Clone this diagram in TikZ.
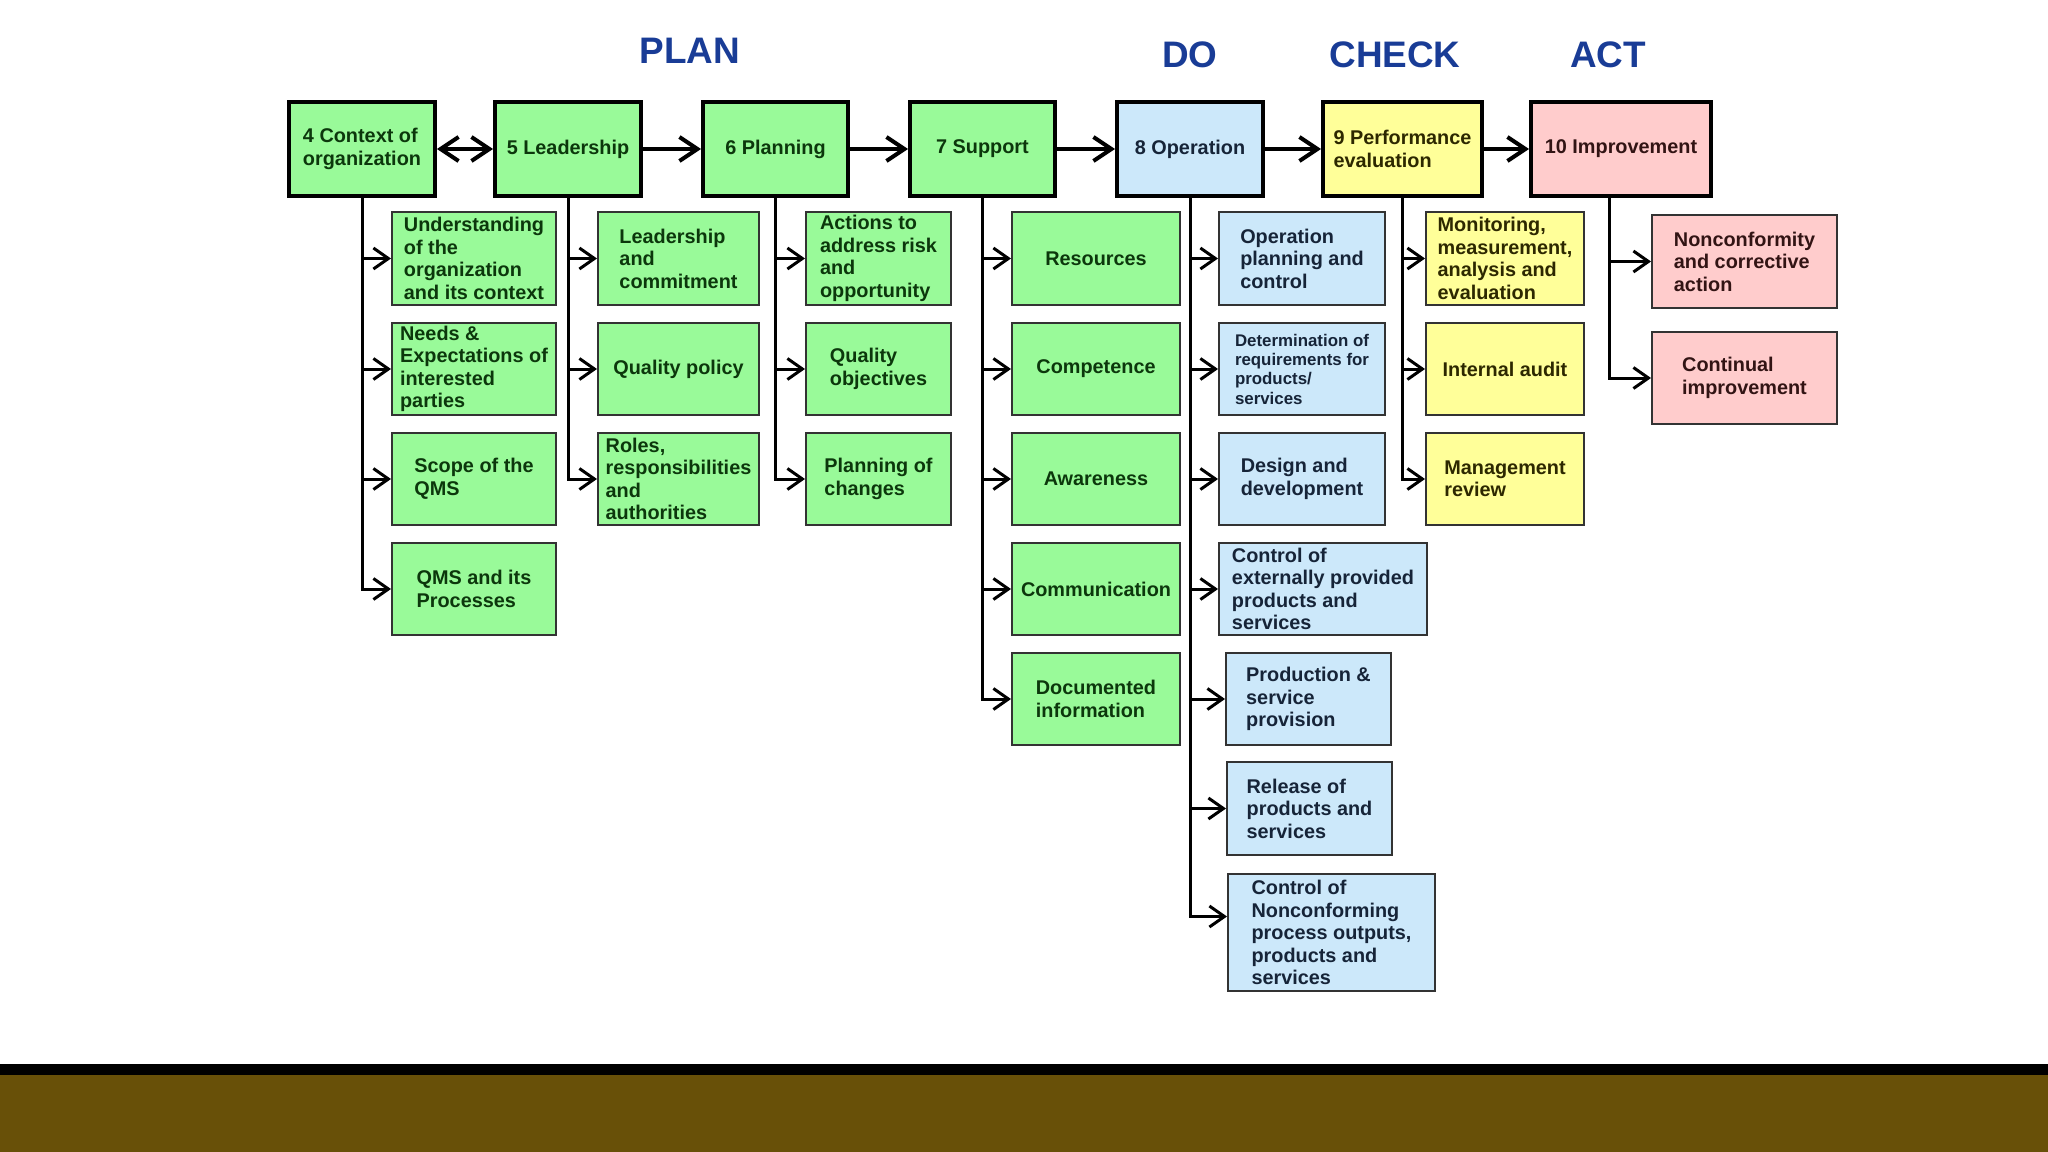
\documentclass[tikz,border=0pt]{standalone}
\usepackage{fontspec}
\setmainfont{Liberation Sans}
\usetikzlibrary{arrows.meta}

\begin{document}
\begin{tikzpicture}[x=0.02cm,y=-0.02cm,>={Straight Barb[length=3.6mm,width=4.8mm]},
  link/.style={-{Straight Barb[length=3mm,width=4.2mm]},line width=0.6mm},
  flow/.style={line width=0.8mm},
  clause/.style={draw=black,line width=0.8mm,minimum height=1.88cm,inner sep=1pt,
    align=left,font=\fontsize{11.3}{12.8}\selectfont\bfseries},
  item/.style={draw=black!80,line width=0.4mm,minimum height=1.86cm,inner sep=1pt,
    align=left,font=\fontsize{11.3}{12.8}\selectfont\bfseries},
  plan/.style={fill=planfill,text=plantext},
  do/.style={fill=dofill,text=dotext},
  check/.style={fill=checkfill,text=checktext},
  act/.style={fill=actfill,text=acttext},
  phasename/.style={text=phase,font=\fontsize{21}{24}\selectfont\bfseries}]
\definecolor{planfill}{RGB}{153,250,153}
\definecolor{plantext}{RGB}{12,55,12}
\definecolor{dofill}{RGB}{204,232,250}
\definecolor{dotext}{RGB}{22,36,56}
\definecolor{checkfill}{RGB}{255,255,153}
\definecolor{checktext}{RGB}{45,40,0}
\definecolor{actfill}{RGB}{255,204,204}
\definecolor{acttext}{RGB}{50,20,20}
\definecolor{phase}{RGB}{25,60,150}
\definecolor{band}{RGB}{104,80,8}

\useasboundingbox (0,0) rectangle (2048,1152);

% Phase headings.
\node[phasename] (hplan) at (690,51) {PLAN};
\node[phasename] (hdo) at (1190,55) {DO};
\node[phasename] (hcheck) at (1395,55) {CHECK};
\node[phasename] (hact) at (1608,55) {ACT};

% Main clauses.
\node[clause,plan,minimum width=2.92cm] (ctx) at (362,149) {4 Context of\\organization};
\node[clause,plan,minimum width=2.92cm] (lead) at (568,149) {5 Leadership};
\node[clause,plan,minimum width=2.9cm] (plng) at (775.5,149) {6 Planning};
\node[clause,plan,minimum width=2.9cm] (supp) at (982.5,149) {7 Support};
\node[clause,do,minimum width=2.92cm] (oper) at (1190,149) {8 Operation};
\node[clause,check,minimum width=3.18cm] (perf) at (1402.5,149) {9 Performance\\evaluation};
\node[clause,act,minimum width=3.6cm] (impr) at (1621,149) {10 Improvement};

\draw[flow,<->] (ctx.east) -- (lead.west);
\draw[flow,->] (lead.east) -- (plng.west);
\draw[flow,->] (plng.east) -- (supp.west);
\draw[flow,->] (supp.east) -- (oper.west);
\draw[flow,->] (oper.east) -- (perf.west);
\draw[flow,->] (perf.east) -- (impr.west);

% Sub-clauses of 4 to 6.
\node[item,plan,minimum width=3.28cm] (ctxa) at (474,258.5) {Understanding\\of the\\organization\\and its context};
\node[item,plan,minimum width=3.28cm] (ctxb) at (474,369) {Needs \&\\Expectations of\\interested\\parties};
\node[item,plan,minimum width=3.28cm] (ctxc) at (474,479) {Scope of the\\QMS};
\node[item,plan,minimum width=3.28cm] (ctxd) at (474,589) {QMS and its\\Processes};
\node[item,plan,minimum width=3.22cm] (leada) at (678.5,258.5) {Leadership\\and\\commitment};
\node[item,plan,minimum width=3.22cm] (leadb) at (678.5,369) {Quality policy};
\node[item,plan,minimum width=3.22cm] (leadc) at (678.5,479) {Roles,\\responsibilities\\and\\authorities};
\node[item,plan,minimum width=2.9cm] (plnga) at (878.5,258.5) {Actions to\\address risk\\and\\opportunity};
\node[item,plan,minimum width=2.9cm] (plngb) at (878.5,369) {Quality\\objectives};
\node[item,plan,minimum width=2.9cm] (plngc) at (878.5,479) {Planning of\\changes};

% Sub-clauses of 7.
\node[item,plan,minimum width=3.36cm] (suppa) at (1096,258.5) {Resources};
\node[item,plan,minimum width=3.36cm] (suppb) at (1096,369) {Competence};
\node[item,plan,minimum width=3.36cm] (suppc) at (1096,479) {Awareness};
\node[item,plan,minimum width=3.36cm] (suppd) at (1096,589) {Communication};
\node[item,plan,minimum width=3.36cm] (suppe) at (1096,699) {Documented\\information};

% Sub-clauses of 8.
\node[item,do,minimum width=3.32cm] (opera) at (1302,258.5) {Operation\\planning and\\control};
\node[item,do,minimum width=3.32cm,font=\fontsize{9.6}{11}\selectfont\bfseries] (operb) at (1302,369) {Determination of\\requirements for\\products/\\services};
\node[item,do,minimum width=3.32cm] (operc) at (1302,479) {Design and\\development};
\node[item,do,minimum width=4.16cm] (operd) at (1323,589) {Control of\\externally provided\\products and\\services};
\node[item,do,minimum width=3.3cm] (opere) at (1308.5,699) {Production \&\\service\\provision};
\node[item,do,minimum width=3.3cm] (operf) at (1309.5,808.5) {Release of\\products and\\services};
\node[item,do,minimum width=4.14cm,minimum height=2.34cm] (operg) at (1331.5,932.5) {Control of\\Nonconforming\\process outputs,\\products and\\services};

% Sub-clauses of 9 and 10.
\node[item,check,minimum width=3.16cm] (perfa) at (1505,258.5) {Monitoring,\\measurement,\\analysis and\\evaluation};
\node[item,check,minimum width=3.16cm] (perfb) at (1505,369) {Internal audit};
\node[item,check,minimum width=3.16cm] (perfc) at (1505,479) {Management\\review};
\node[item,act,minimum width=3.7cm] (impra) at (1744.5,261.5) {Nonconformity\\and corrective\\action};
\node[item,act,minimum width=3.7cm] (imprb) at (1744.5,378) {Continual\\improvement};

% Branches from each clause to its sub-clauses.
\draw[link] (ctx.south) |- (ctxd.west);
\draw[link] (ctx.south) |- (ctxc.west);
\draw[link] (ctx.south) |- (ctxb.west);
\draw[link] (ctx.south) |- (ctxa.west);
\draw[link] (lead.south) |- (leadc.west);
\draw[link] (lead.south) |- (leadb.west);
\draw[link] (lead.south) |- (leada.west);
\draw[link] (plng.south) |- (plngc.west);
\draw[link] (plng.south) |- (plngb.west);
\draw[link] (plng.south) |- (plnga.west);
\draw[link] (supp.south) |- (suppe.west);
\draw[link] (supp.south) |- (suppd.west);
\draw[link] (supp.south) |- (suppc.west);
\draw[link] (supp.south) |- (suppb.west);
\draw[link] (supp.south) |- (suppa.west);
\draw[link] (oper.south) |- ([yshift=0.32cm]operg.west);
\draw[link] (oper.south) |- (operf.west);
\draw[link] (oper.south) |- (opere.west);
\draw[link] (oper.south) |- (operd.west);
\draw[link] (oper.south) |- (operc.west);
\draw[link] (oper.south) |- (operb.west);
\draw[link] (oper.south) |- (opera.west);
\draw[link] (perf.south) |- (perfc.west);
\draw[link] (perf.south) |- (perfb.west);
\draw[link] (perf.south) |- (perfa.west);
\coordinate (imprdrop) at (1609,196);
\draw[link] (imprdrop) |- (imprb.west);
\draw[link] (imprdrop) |- (impra.west);

% Footer band.
\fill[black] (0,1064) rectangle (2048,1075);
\fill[band] (0,1075) rectangle (2048,1152);
\end{tikzpicture}
\end{document}
